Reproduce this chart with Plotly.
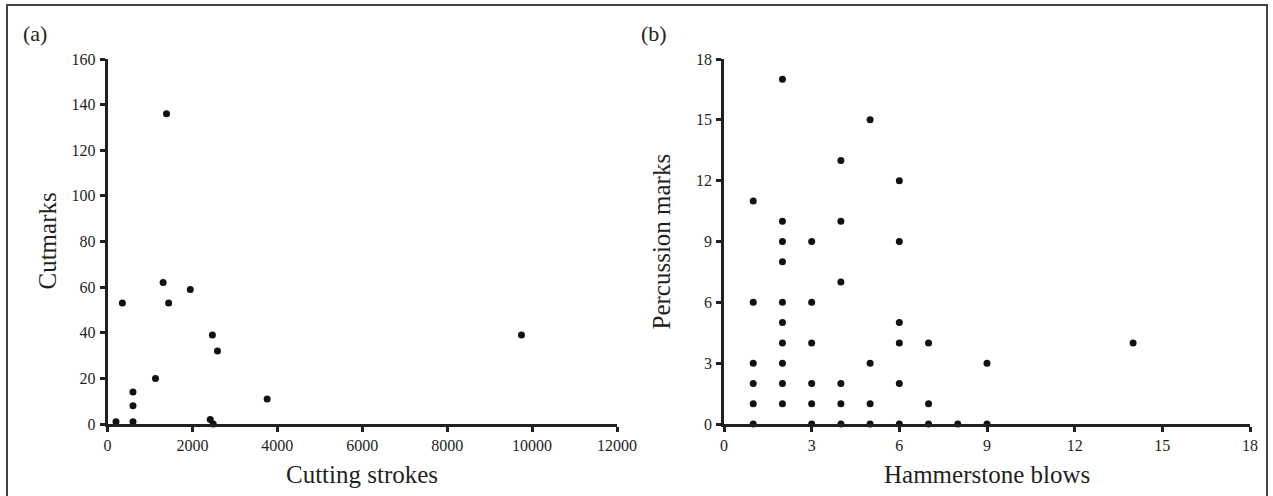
import plotly.graph_objects as go

# ---------------- data ----------------
cut_strokes = [200, 600, 600, 600, 350, 1130, 1310, 1390, 1440, 1950, 2470, 2590, 2420, 2490, 3760, 9750]
cutmarks    = [1,   1,   8,   14,  53,  20,   62,   136,  53,   59,   39,   32,   2,    0,    11,   39]

hammer_blows = [1, 1, 1, 1, 1, 1,
                2, 2, 2, 2, 2, 2, 2, 2, 2, 2,
                3, 3, 3, 3, 3, 3,
                4, 4, 4, 4, 4, 4,
                5, 5, 5, 5,
                6, 6, 6, 6, 6, 6,
                7, 7, 7,
                8,
                9, 9,
                14]
percussion   = [0, 1, 2, 3, 6, 11,
                1, 2, 3, 4, 5, 6, 8, 9, 10, 17,
                0, 1, 2, 4, 6, 9,
                0, 1, 2, 7, 10, 13,
                0, 1, 3, 15,
                0, 2, 4, 5, 9, 12,
                0, 1, 4,
                0,
                0, 3,
                4]

left_xticks = [0, 2000, 4000, 6000, 8000, 10000, 12000]
left_yticks = [0, 20, 40, 60, 80, 100, 120, 140, 160]
right_ticks = [0, 3, 6, 9, 12, 15, 18]

# ---------------- layout helpers ----------------
W, H = 1273, 496
def px(x):
    return x / W
def py(y):
    return 1 - y / H

FONT = "Liberation Serif, Times New Roman, serif"
INK = "#231f20"

fig = go.Figure()
fig.add_trace(go.Scatter(x=cut_strokes, y=cutmarks, mode="markers",
                         marker=dict(size=7, color="#111111"), cliponaxis=False,
                         xaxis="x", yaxis="y", showlegend=False))
fig.add_trace(go.Scatter(x=hammer_blows, y=percussion, mode="markers",
                         marker=dict(size=7, color="#111111"), cliponaxis=False,
                         xaxis="x2", yaxis="y2", showlegend=False))

axis_common = dict(showline=True, linecolor=INK, linewidth=2.5, ticks="outside",
                   ticklen=5, tickwidth=2.5, tickcolor=INK, showgrid=False,
                   zeroline=False, automargin=False, mirror=False,
                   tickfont=dict(family=FONT, size=16, color=INK))

fig.update_layout(
    width=W, height=H, template="none",
    margin=dict(l=0, r=0, t=0, b=0),
    paper_bgcolor="white", plot_bgcolor="rgba(0,0,0,0)",
    showlegend=False,
    xaxis=dict(domain=[px(107.5), px(617)], range=[0, 12000], tickvals=left_xticks,
               tickformat="d", anchor="y", ticklabelstandoff=0, **axis_common),
    yaxis=dict(domain=[py(424), py(59)], range=[0, 160], tickvals=left_yticks,
               anchor="x", ticklabelstandoff=1, **axis_common),
    xaxis2=dict(domain=[px(724), px(1250)], range=[0, 18], tickvals=right_ticks,
                anchor="y2", ticklabelstandoff=0, **axis_common),
    yaxis2=dict(domain=[py(424), py(59)], range=[0, 18], tickvals=right_ticks,
                anchor="x2", ticklabelstandoff=1, **axis_common),
)

title_font = dict(family=FONT, size=25, color=INK)
annots = [
    dict(text="(a)", x=px(21), y=py(33), xanchor="left", yanchor="middle",
         font=dict(family=FONT, size=22, color=INK)),
    dict(text="(b)", x=px(639), y=py(33), xanchor="left", yanchor="middle",
         font=dict(family=FONT, size=22, color=INK)),
    dict(text="Cutting strokes", x=px((107.5 + 617) / 2), y=py(474),
         xanchor="center", yanchor="middle", font=title_font),
    dict(text="Hammerstone blows", x=px((724 + 1250) / 2), y=py(474),
         xanchor="center", yanchor="middle", font=title_font),
    dict(text="Cutmarks", x=px(47), y=py(241.5), textangle=-90,
         xanchor="center", yanchor="middle", font=title_font),
    dict(text="Percussion marks", x=px(661), y=py(241.5), textangle=-90,
         xanchor="center", yanchor="middle", font=title_font),
]
for a in annots:
    a.update(xref="paper", yref="paper", showarrow=False)
fig.update_layout(annotations=annots)

# outer frame
fig.add_shape(type="rect", xref="paper", yref="paper",
              x0=px(7), x1=px(1267), y0=py(505), y1=py(5),
              line=dict(color="#444444", width=2), fillcolor="rgba(0,0,0,0)", layer="below")

fig.write_html("out.html",
               config={"displayModeBar": False},
               post_script="document.body.style.margin='0px';document.body.style.overflow='hidden';")
